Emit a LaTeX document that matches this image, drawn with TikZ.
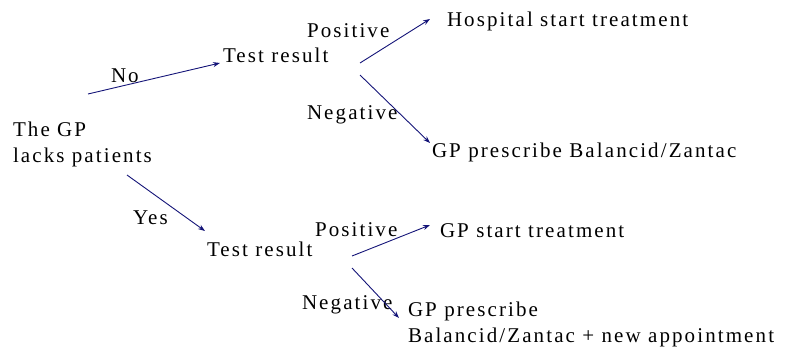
\documentclass[tikz,border=0pt]{standalone}
\usepackage{fontspec}
\setmainfont{Liberation Serif}[LetterSpace=10]
\usetikzlibrary{arrows.meta}
\definecolor{arrowblue}{RGB}{20,20,120}
\tikzset{
  txt/.style={inner sep=0pt, outer sep=0pt, font=\fontsize{21}{25.5}\selectfont, align=left},
  arr/.style={draw=arrowblue, line width=0.9pt, -{Stealth[length=7pt,width=5pt]}}
}
\begin{document}
\begin{tikzpicture}[x=1pt,y=-1pt]
\useasboundingbox (0,0) rectangle (787,354);
% nodes
\node[txt, anchor=north west] (gp) at (13,122) {The GP\\lacks patients};
\node[txt, anchor=base west] (tr1) at (223,62) {Test result};
\node[txt, anchor=base west] (hosp) at (447,26) {Hospital start treatment};
\node[txt, anchor=base west] (pres1) at (432,157) {GP prescribe Balancid/Zantac};
\node[txt, anchor=base west] (tr2) at (207,256) {Test result};
\node[txt, anchor=base west] (gpstart) at (440,237) {GP start treatment};
\node[txt, anchor=north west] (pres2) at (408,302) {GP prescribe\\Balancid/Zantac + new appointment};
% labels
\node[txt, anchor=base west] (lno) at (111,82) {No};
\node[txt, anchor=base west] (lpos1) at (307,37) {Positive};
\node[txt, anchor=base west] (lneg1) at (307,119) {Negative};
\node[txt, anchor=base west] (lyes) at (133,224) {Yes};
\node[txt, anchor=base west] (lpos2) at (315,236) {Positive};
\node[txt, anchor=base west] (lneg2) at (302,309) {Negative};
% connectors
\draw[arr] ([shift={(75,-28)}]gp.north west) -- ([shift={(-3,1)}]tr1.base west);
\draw[arr] ([shift={(137,1)}]tr1.base west) -- ([shift={(-17,-7)}]hosp.base west);
\draw[arr] ([shift={(137,13)}]tr1.base west) -- ([shift={(-2,-14)}]pres1.base west);
\draw[arr] ([shift={(114,53)}]gp.north west) -- ([shift={(-2,-25)}]tr2.base west);
\draw[arr] ([shift={(145,0)}]tr2.base west) -- ([shift={(-10,-12)}]gpstart.base west);
\draw[arr] ([shift={(145,12)}]tr2.base west) -- ([shift={(-9,16)}]pres2.north west);
\end{tikzpicture}
\end{document}
